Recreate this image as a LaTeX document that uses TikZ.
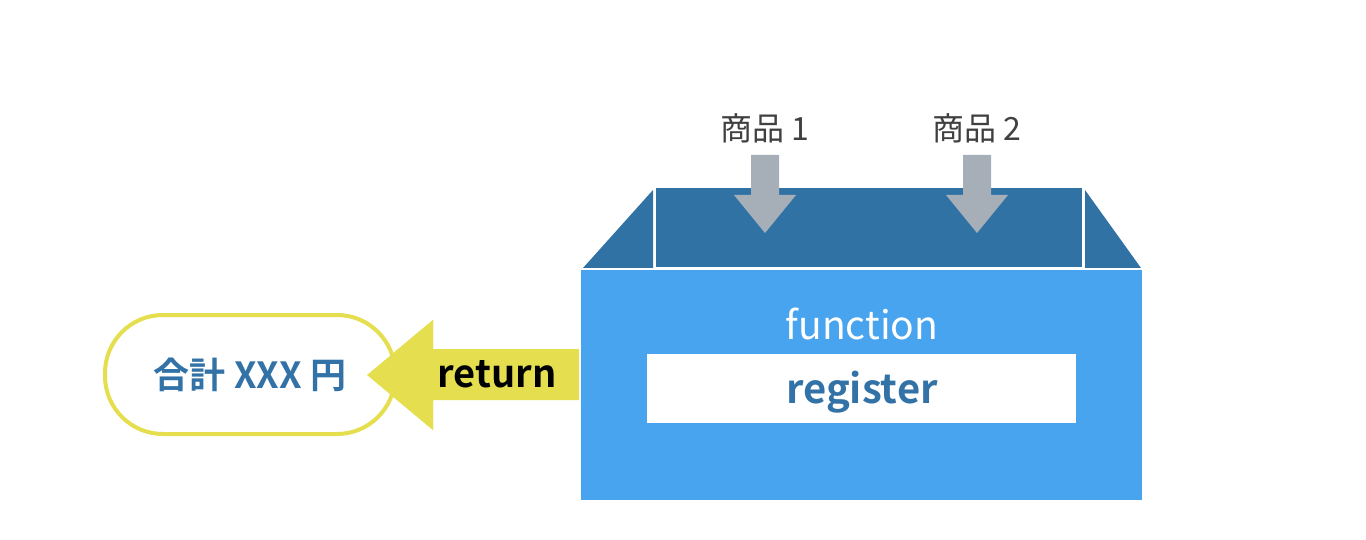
\documentclass[tikz,border=0pt]{standalone}
\usepackage{fontspec}
\setmainfont{Noto Sans CJK JP}[BoldFont={Noto Sans CJK JP Bold}]
\definecolor{lid}{HTML}{3172A5}
\definecolor{body}{HTML}{48A4EE}
\definecolor{grayarr}{HTML}{A6AFB7}
\definecolor{yel}{HTML}{E5DF4F}
\definecolor{txtgray}{HTML}{404040}
\definecolor{txtblue}{HTML}{3272A6}
\tikzset{
  lidpart/.style={fill=lid, draw=none},
  inarrow/.style={fill=grayarr, draw=none},
  labeltxt/.style={text=txtgray, font=\fontsize{32}{36}\selectfont, inner sep=0pt},
}
\begin{document}
\begin{tikzpicture}[x=1pt,y=-1pt]
\useasboundingbox (0,0) rectangle (1366,540);
% body
\fill[body] (581,270) rectangle (1142,500);
% lid
\fill[lidpart] (656,188) rectangle (1082,267);
\fill[lidpart] (583,268) -- (653,190) -- (653,268) -- cycle;
\fill[lidpart] (1085,190) -- (1141,268) -- (1085,268) -- cycle;
% labels
\node[labeltxt] (p1) at (765,128) {商品 1};
\node[labeltxt] (p2) at (977,128) {商品 2};
% gray arrows
\foreach \cx in {765,977}{
  \fill[inarrow] (\cx-14,155) -- (\cx+14,155) -- (\cx+14,195) -- (\cx+31,195)
     -- (\cx,233) -- (\cx-31,195) -- (\cx-14,195) -- cycle;
}
% function label
\node[text=white, inner sep=0pt, font=\fontsize{39}{44}\selectfont] (fn) at (862,324) {function};
\node[fill=white, minimum width=429pt, minimum height=69pt, inner sep=0pt] (regbox) at (861.5,388.5) {};
\node[anchor=base, inner sep=0pt, text=txtblue, font=\bfseries\fontsize{40}{44}\selectfont] (reg) at (862,403) {register};
% return arrow
\fill[yel] (579,349) -- (433,349) -- (433,320) -- (367,375) -- (433,430) -- (433,400) -- (579,400) -- cycle;
\node[inner sep=0pt, font=\bfseries\fontsize{38}{42}\selectfont] (ret) at (497,374) {return};
% result pill
\node[draw=yel, line width=4pt, fill=white, rounded corners=58pt,
  minimum width=290pt, minimum height=119pt, inner sep=0pt,
  text=txtblue, font=\bfseries\fontsize{36}{40}\selectfont] (res) at (250,374.5) {合計 XXX 円};
% redraw arrow tip over pill edge
\fill[yel] (433,320) -- (367,375) -- (433,430) -- cycle;
\end{tikzpicture}
\end{document}
